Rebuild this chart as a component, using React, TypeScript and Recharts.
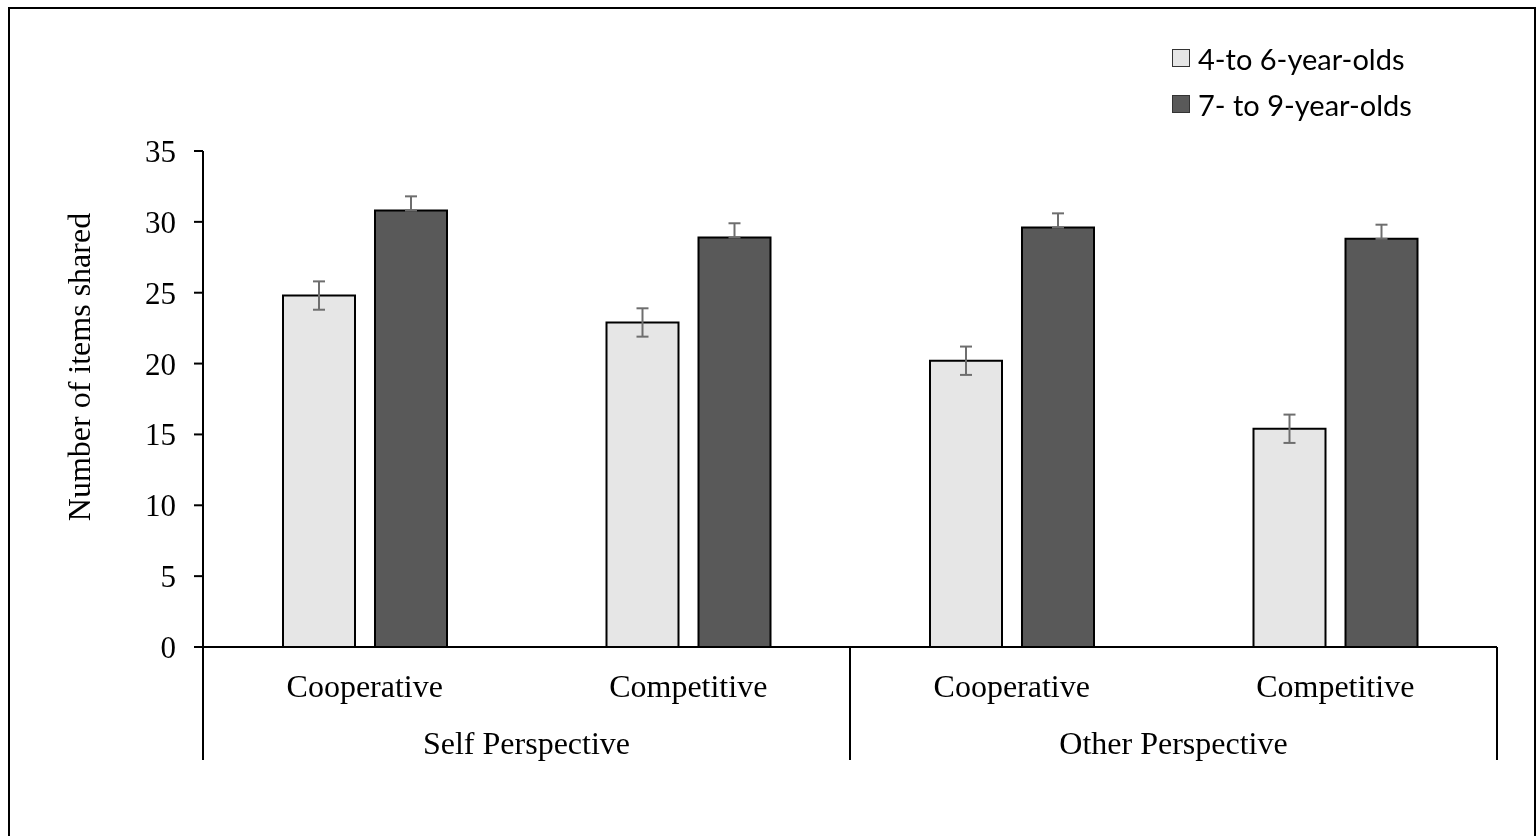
import { Bar, BarChart, ErrorBar, XAxis, YAxis } from 'recharts';

const conditions = ['Cooperative', 'Competitive', 'Cooperative', 'Competitive'];
const perspectives = ['Self Perspective', 'Self Perspective', 'Other Perspective', 'Other Perspective'];
const youngerMeans = [24.8, 22.9, 20.2, 15.4];
const olderMeans = [30.8, 28.9, 29.6, 28.8];
const youngerErr = [1.0, 1.0, 1.0, 1.0];
const olderErr = [1.0, 1.0, 1.0, 1.0];
const yTicks = [0, 5, 10, 15, 20, 25, 30, 35];
const seriesNames = ['4-to 6-year-olds', '7- to 9-year-olds'];

const data = conditions.map((condition, i) => ({
    condition,
    perspective: perspectives[i],
    young: youngerMeans[i],
    old: olderMeans[i],
    youngErr: youngerErr[i],
    // lower half of the error bar is hidden inside the dark bar in the original
    oldErr: [0, olderErr[i]],
}));

const W = 1528;
const H = 828;
const Y_AXIS_W = 195;
const X_AXIS_H = 189;
const M = { top: 143, right: 39, bottom: 0, left: 0 };
const PLOT_W = W - Y_AXIS_W - M.right;
const BAND = PLOT_W / conditions.length;
const AXIS_Y = H - X_AXIS_H;

const LIGHT = '#e6e6e6';
const DARK = '#595959';
const SERIF = '"Liberation Serif", "Times New Roman", serif';

function CategoryTick(props: any) {
    const { x, payload } = props;
    const i = payload.index;
    const extra = [];
    if (i % 2 === 0) {
        const left = x - BAND / 2;
        extra.push(
            <line key="l" x1={left} x2={left} y1={AXIS_Y} y2={AXIS_Y + 113} stroke="#000" strokeWidth={2} />,
        );
        extra.push(
            <text
                key="g"
                x={x + BAND / 2}
                y={AXIS_Y + 107}
                textAnchor="middle"
                fontFamily={SERIF}
                fontSize={32}
                fill="#000"
            >
                {perspectives[i]}
            </text>,
        );
    }
    if (i === conditions.length - 1) {
        const right = x + BAND / 2;
        extra.push(
            <line key="r" x1={right} x2={right} y1={AXIS_Y} y2={AXIS_Y + 113} stroke="#000" strokeWidth={2} />,
        );
    }
    return (
        <g>
            <text x={x} y={AXIS_Y + 50} textAnchor="middle" fontFamily={SERIF} fontSize={32} fill="#000">
                {payload.value}
            </text>
            {extra}
        </g>
    );
}

function LegendBox() {
    const colors = [LIGHT, DARK];
    return (
        <div
            style={{
                position: 'absolute',
                left: 1162,
                top: 26,
                fontFamily: 'Lato, "Open Sans", sans-serif',
                fontSize: 29,
                color: '#000',
            }}
        >
            {seriesNames.map((name, i) => (
                <div key={name} style={{ display: 'flex', alignItems: 'center', height: 46 }}>
                    <span
                        style={{
                            display: 'inline-block',
                            boxSizing: 'border-box',
                            width: 18,
                            height: 18,
                            background: colors[i],
                            border: '1.5px solid #333',
                            marginRight: 8,
                        }}
                    />
                    <span>{name}</span>
                </div>
            ))}
        </div>
    );
}

export default function App() {
    return (
        <div
            style={{
                position: 'fixed',
                left: 8,
                top: 7,
                width: W,
                height: 829,
                boxSizing: 'border-box',
                borderLeft: '2px solid #000',
                borderTop: '2px solid #000',
                borderRight: '2px solid #000',
            }}
        >
            <BarChart
                width={W}
                height={H}
                data={data}
                margin={M}
                barSize={72}
                barGap={20}
                style={{ position: 'absolute', left: -2, top: -1 }}
            >
                <XAxis
                    dataKey="condition"
                    axisLine={{ stroke: '#000', strokeWidth: 2 }}
                    tickLine={false}
                    tick={<CategoryTick />}
                    interval={0}
                    height={X_AXIS_H}
                />
                <YAxis
                    domain={[0, 35]}
                    ticks={yTicks}
                    interval={0}
                    axisLine={{ stroke: '#000', strokeWidth: 2 }}
                    tickLine={{ stroke: '#000', strokeWidth: 2 }}
                    tickSize={9}
                    tickMargin={18}
                    tick={{ fill: '#000', fontSize: 31, fontFamily: SERIF }}
                    width={Y_AXIS_W}
                    label={{
                        content: () => (
                            <text
                                x={0}
                                y={0}
                                transform="translate(71 359) rotate(-90)"
                                textAnchor="middle"
                                dominantBaseline="central"
                                fontFamily={SERIF}
                                fontSize={32}
                                fill="#000"
                            >
                                Number of items shared
                            </text>
                        ),
                    }}
                />
                <Bar dataKey="young" name={seriesNames[0]} fill={LIGHT} stroke="#000" strokeWidth={2} isAnimationActive={false}>
                    <ErrorBar dataKey="youngErr" width={6} stroke="#6e6e6e" strokeWidth={2} direction="y" />
                </Bar>
                <Bar dataKey="old" name={seriesNames[1]} fill={DARK} stroke="#000" strokeWidth={2} isAnimationActive={false}>
                    <ErrorBar dataKey="oldErr" width={6} stroke="#6e6e6e" strokeWidth={2} direction="y" />
                </Bar>
            </BarChart>
            <LegendBox />
        </div>
    );
}
